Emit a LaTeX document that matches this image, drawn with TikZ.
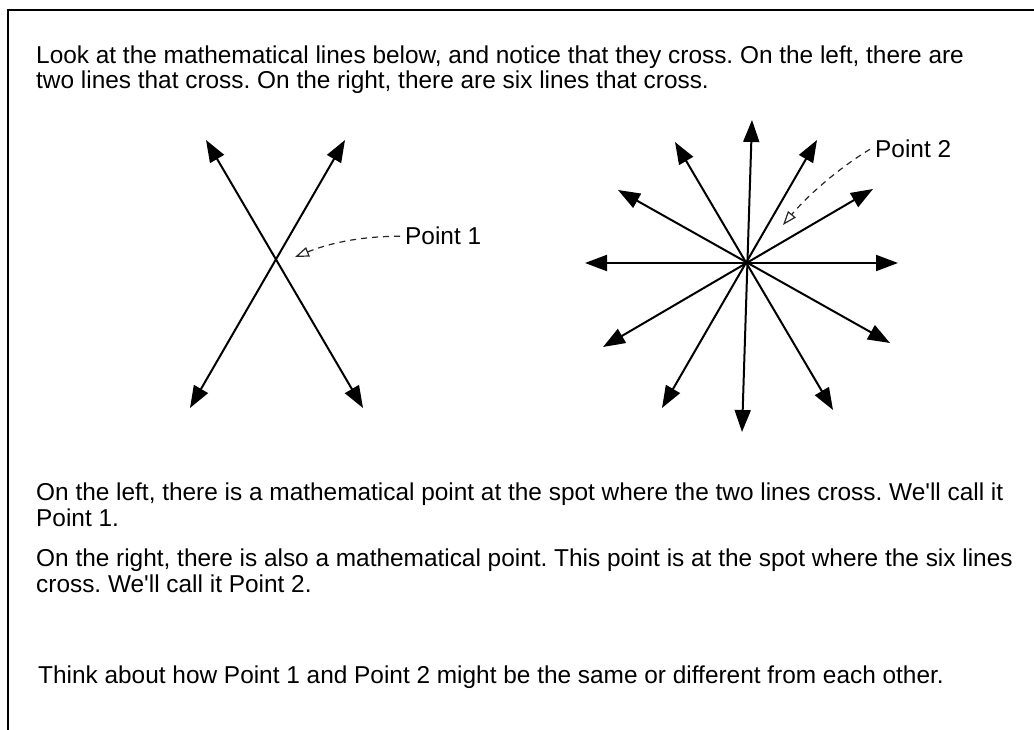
\documentclass[tikz,border=0pt]{standalone}
\usepackage{fontspec}
\setmainfont{Liberation Sans}
\usetikzlibrary{arrows.meta}

\begin{document}
\frenchspacing
\begin{tikzpicture}[x=1pt, y=-1pt,
  dline/.style={{Triangle[length=22pt,width=16pt]}-{Triangle[length=22pt,width=16pt]}, line width=2pt},
  pointer/.style={dash pattern=on 6pt off 5pt, black!85, line width=1.2pt, -{Triangle[open,length=14pt,width=10pt]}},
  para/.style={anchor=base west, inner sep=0pt, align=left, font=\fontsize{24.4}{25.5}\selectfont},
  ptlabel/.style={anchor=base west, inner sep=0pt, inner xsep=5pt, font=\fontsize{24.4}{25.5}\selectfont}]
\path[use as bounding box] (0,0) rectangle (1034,730);
\draw[line width=1.5pt] (8,730) -- (8,10) -- (1034,10);

% texts (anchored at the last line)
\node[para] (intro) at (36,89) {Look at the mathematical lines below, and notice that they cross. On the left, there are\\two lines that cross. On the right, there are six lines that cross.};
\node[para] (left) at (36,526) {On the left, there is a mathematical point at the spot where the two lines cross. We\textquotesingle ll call it\\Point 1.};
\node[para] (right) at (36,592) {On the right, there is also a mathematical point. This point is at the spot where the six lines\\cross. We\textquotesingle ll call it Point 2.};
\node[para] (outro) at (38,683) {Think about how Point 1 and Point 2 might be the same or different from each other.};

% two lines
\coordinate (a1) at (190,408);
\coordinate (a2) at (345,140);
\coordinate (b1) at (363,408);
\coordinate (b2) at (206,140);
\draw[dline] (a1) -- (a2);
\draw[dline] (b1) -- (b2);

% six lines
\foreach \name/\px/\py in {n/752/120, s/742/432, nne/817/140, ssw/662/408,
    ene/873/189, wsw/603/347, e/898/263, w/585/263,
    ese/890/343, wnw/618/190, sse/833/410, nnw/675/142}
  \coordinate (\name) at (\px,\py);
\foreach \from/\to in {n/s, nne/ssw, ene/wsw, e/w, ese/wnw, sse/nnw}
  \draw[dline] (\from) -- (\to);

% point labels
\node[ptlabel] (p1) at (400,245) {Point 1};
\coordinate (p1tip) at (295,257);
\draw[pointer] (p1.west) .. controls +(-45,0) and +(30,-12) .. (p1tip);
\node[ptlabel] (p2) at (870,158) {Point 2};
\coordinate (p2tip) at (783,225);
\draw[pointer] (p2.west) .. controls +(-30,18) and +(25,-30) .. (p2tip);
\end{tikzpicture}
\end{document}
